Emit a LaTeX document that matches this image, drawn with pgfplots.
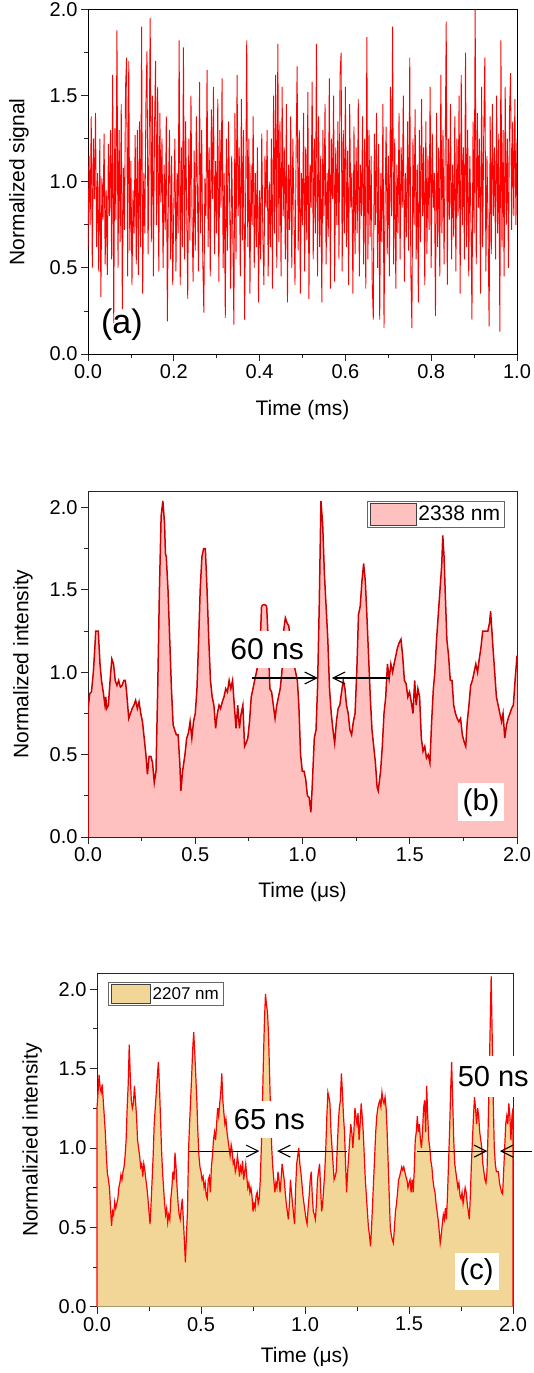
\documentclass[border=0pt]{standalone}
\usepackage{fontspec}
\setmainfont{Liberation Sans}
\usepackage{pgfplots}
\usepackage{pgfplotstable}
\pgfplotsset{compat=1.18}
\usetikzlibrary{arrows.meta}
\definecolor{lineA}{RGB}{255,0,0}
\definecolor{lineB}{RGB}{204,0,0}
\definecolor{fillB}{RGB}{255,192,192}
\definecolor{lineC}{RGB}{255,0,0}
\definecolor{fillC}{RGB}{242,214,152}

\pgfplotstableread[row sep=\\]{t v\\
0 0.60\\ 0.0025 1.15\\ 0.005 0.75\\ 0.0075 1.38\\ 0.01 0.50\\ 0.0125 1.25\\ 0.015 0.90\\ 0.0175 1.40\\ 0.02 0.62\\ 0.0225 1.05\\
0.025 0.48\\ 0.0275 1.25\\ 0.03 0.33\\ 0.0325 1.02\\ 0.035 0.78\\ 0.0375 1.28\\ 0.04 0.52\\ 0.0425 0.95\\ 0.045 0.46\\ 0.0475 1.22\\
0.05 0.80\\ 0.0525 1.30\\ 0.055 0.55\\ 0.0575 1.62\\ 0.06 0.18\\ 0.0625 1.31\\ 0.065 0.78\\ 0.0675 1.88\\ 0.07 0.50\\ 0.0725 1.30\\
0.075 0.65\\ 0.0775 1.45\\ 0.08 0.26\\ 0.0825 1.08\\ 0.085 0.72\\ 0.0875 1.55\\ 0.09 1.72\\ 0.0925 0.45\\ 0.095 1.70\\ 0.0975 0.60\\
0.1 1.12\\ 0.1025 0.40\\ 0.105 0.95\\ 0.1075 0.70\\ 0.11 1.27\\ 0.1125 0.52\\ 0.115 1.30\\ 0.1175 0.46\\ 0.12 1.35\\ 0.1225 0.62\\
0.125 1.90\\ 0.1275 0.35\\ 0.13 1.05\\ 0.1325 0.70\\ 0.135 1.45\\ 0.1375 1.76\\ 0.14 0.58\\ 0.1425 1.20\\ 0.145 1.95\\ 0.1475 0.65\\
0.15 1.50\\ 0.1525 0.45\\ 0.155 1.30\\ 0.1575 1.70\\ 0.16 0.75\\ 0.1625 1.55\\ 0.165 0.48\\ 0.1675 1.40\\ 0.17 0.88\\ 0.1725 1.25\\
0.175 0.50\\ 0.1775 1.10\\ 0.18 0.72\\ 0.1825 1.38\\ 0.185 0.19\\ 0.1875 0.95\\ 0.19 1.30\\ 0.1925 0.55\\ 0.195 1.15\\ 0.1975 0.40\\
0.2 0.85\\ 0.2025 1.25\\ 0.205 0.48\\ 0.2075 1.05\\ 0.21 0.70\\ 0.2125 1.82\\ 0.215 0.40\\ 0.2175 1.20\\ 0.22 0.62\\ 0.2225 1.78\\
0.225 0.55\\ 0.2275 1.35\\ 0.23 0.85\\ 0.2325 0.32\\ 0.235 1.25\\ 0.2375 0.66\\ 0.24 1.50\\ 0.2425 0.80\\ 0.245 0.42\\ 0.2475 1.18\\
0.25 0.60\\ 0.2525 1.38\\ 0.255 0.95\\ 0.2575 0.48\\ 0.26 1.58\\ 0.2625 0.70\\ 0.265 1.30\\ 0.2675 0.55\\ 0.27 0.24\\ 0.2725 1.02\\
0.275 0.80\\ 0.2775 1.65\\ 0.28 0.62\\ 0.2825 1.20\\ 0.285 0.45\\ 0.2875 1.42\\ 0.29 0.90\\ 0.2925 1.55\\ 0.295 0.58\\ 0.2975 1.12\\
0.3 0.70\\ 0.3025 1.48\\ 0.305 0.42\\ 0.3075 1.30\\ 0.31 0.85\\ 0.3125 1.60\\ 0.315 0.50\\ 0.3175 1.05\\ 0.32 0.21\\ 0.3225 1.25\\
0.325 0.60\\ 0.3275 1.35\\ 0.33 0.95\\ 0.3325 0.38\\ 0.335 1.15\\ 0.3375 0.72\\ 0.34 0.17\\ 0.3425 1.40\\ 0.345 0.55\\ 0.3475 1.62\\
0.35 0.80\\ 0.3525 1.20\\ 0.355 0.45\\ 0.3575 1.48\\ 0.36 0.66\\ 0.3625 1.30\\ 0.365 0.20\\ 0.3675 0.90\\ 0.37 1.82\\ 0.3725 0.62\\
0.375 1.25\\ 0.3775 0.35\\ 0.38 1.10\\ 0.3825 0.75\\ 0.385 1.38\\ 0.3875 0.50\\ 0.39 1.05\\ 0.3925 0.62\\ 0.395 1.20\\ 0.3975 0.30\\
0.4 0.95\\ 0.4025 0.55\\ 0.405 1.28\\ 0.4075 0.70\\ 0.41 0.40\\ 0.4125 1.15\\ 0.415 0.85\\ 0.4175 1.30\\ 0.42 0.45\\ 0.4225 1.00\\
0.425 0.62\\ 0.4275 1.25\\ 0.43 0.38\\ 0.4325 1.50\\ 0.435 0.70\\ 0.4375 1.62\\ 0.44 0.50\\ 0.4425 1.80\\ 0.445 0.65\\ 0.4475 1.35\\
0.45 0.45\\ 0.4525 1.55\\ 0.455 0.80\\ 0.4575 1.20\\ 0.46 0.55\\ 0.4625 1.45\\ 0.465 0.30\\ 0.4675 1.10\\ 0.47 0.72\\ 0.4725 1.38\\
0.475 0.50\\ 0.4775 1.25\\ 0.48 0.85\\ 0.4825 0.40\\ 0.485 1.15\\ 0.4875 1.67\\ 0.49 0.60\\ 0.4925 1.30\\ 0.495 0.35\\ 0.4975 1.05\\
0.5 0.75\\ 0.5025 1.40\\ 0.505 0.48\\ 0.5075 1.20\\ 0.51 0.66\\ 0.5125 1.52\\ 0.515 0.32\\ 0.5175 1.10\\ 0.52 0.85\\ 0.5225 1.58\\
0.525 0.55\\ 0.5275 1.25\\ 0.53 0.70\\ 0.5325 1.80\\ 0.535 0.45\\ 0.5375 1.38\\ 0.54 0.62\\ 0.5425 1.15\\ 0.545 0.30\\ 0.5475 1.30\\
0.55 0.80\\ 0.5525 1.45\\ 0.555 0.52\\ 0.5575 1.05\\ 0.56 0.68\\ 0.5625 1.60\\ 0.565 0.38\\ 0.5675 1.25\\ 0.57 0.90\\ 0.5725 1.50\\
0.575 0.42\\ 0.5775 1.20\\ 0.58 0.75\\ 0.5825 1.35\\ 0.585 0.55\\ 0.5875 1.62\\ 0.59 1.75\\ 0.5925 0.48\\ 0.595 1.30\\ 0.5975 0.70\\
0.6 1.55\\ 0.6025 0.62\\ 0.605 1.18\\ 0.6075 0.40\\ 0.61 1.45\\ 0.6125 0.85\\ 0.615 1.05\\ 0.6175 0.35\\ 0.62 1.32\\ 0.6225 0.58\\
0.625 1.20\\ 0.6275 0.70\\ 0.63 1.48\\ 0.6325 0.45\\ 0.635 1.10\\ 0.6375 0.80\\ 0.64 1.38\\ 0.6425 0.52\\ 0.645 1.25\\ 0.6475 0.38\\
0.65 1.84\\ 0.6525 0.55\\ 0.655 1.30\\ 0.6575 0.68\\ 0.66 1.15\\ 0.6625 0.42\\ 0.665 0.20\\ 0.6675 1.28\\ 0.67 0.75\\ 0.6725 1.40\\
0.675 0.50\\ 0.6775 1.22\\ 0.68 0.20\\ 0.6825 1.05\\ 0.685 0.65\\ 0.6875 1.45\\ 0.69 0.15\\ 0.6925 0.90\\ 0.695 1.32\\ 0.6975 0.58\\
0.7 1.15\\ 0.7025 0.45\\ 0.705 1.55\\ 0.7075 0.80\\ 0.71 1.90\\ 0.7125 0.52\\ 0.715 1.25\\ 0.7175 0.38\\ 0.72 1.10\\ 0.7225 0.70\\
0.725 1.40\\ 0.7275 0.55\\ 0.73 1.20\\ 0.7325 0.85\\ 0.735 1.50\\ 0.7375 0.42\\ 0.74 1.05\\ 0.7425 0.68\\ 0.745 1.35\\ 0.7475 0.60\\
0.75 1.72\\ 0.7525 0.48\\ 0.755 0.15\\ 0.7575 1.25\\ 0.76 0.75\\ 0.7625 1.42\\ 0.765 0.55\\ 0.7675 1.10\\ 0.77 0.30\\ 0.7725 1.30\\
0.775 0.65\\ 0.7775 1.48\\ 0.78 0.80\\ 0.7825 1.20\\ 0.785 0.40\\ 0.7875 1.35\\ 0.79 0.58\\ 0.7925 1.15\\ 0.795 0.72\\ 0.7975 1.55\\
0.8 0.50\\ 0.8025 1.28\\ 0.805 0.85\\ 0.8075 1.05\\ 0.81 0.22\\ 0.8125 1.40\\ 0.815 0.62\\ 0.8175 1.20\\ 0.82 0.45\\ 0.8225 1.62\\
0.825 0.70\\ 0.8275 1.30\\ 0.83 0.52\\ 0.8325 1.15\\ 0.835 1.93\\ 0.8375 0.40\\ 0.84 1.25\\ 0.8425 0.78\\ 0.845 1.45\\ 0.8475 0.55\\
0.85 1.10\\ 0.8525 0.68\\ 0.855 1.38\\ 0.8575 0.48\\ 0.86 1.25\\ 0.8625 0.80\\ 0.865 1.50\\ 0.8675 0.35\\ 0.87 1.62\\ 0.8725 0.75\\
0.875 1.20\\ 0.8775 0.55\\ 0.88 1.75\\ 0.8825 0.62\\ 0.885 1.30\\ 0.8875 0.45\\ 0.89 1.15\\ 0.8925 0.80\\ 0.895 0.20\\ 0.8975 1.35\\
0.9 0.70\\ 0.9025 2.00\\ 0.905 0.52\\ 0.9075 1.40\\ 0.91 0.85\\ 0.9125 1.25\\ 0.915 0.35\\ 0.9175 1.55\\ 0.92 0.62\\ 0.9225 1.30\\
0.925 1.72\\ 0.9275 0.48\\ 0.93 1.15\\ 0.9325 0.75\\ 0.935 0.16\\ 0.9375 1.38\\ 0.94 0.58\\ 0.9425 1.45\\ 0.945 0.80\\ 0.9475 1.20\\
0.95 0.55\\ 0.9525 1.50\\ 0.955 0.70\\ 0.9575 1.28\\ 0.96 0.13\\ 0.9625 1.82\\ 0.965 0.62\\ 0.9675 1.30\\ 0.97 0.45\\ 0.9725 1.55\\
0.975 0.75\\ 0.9775 1.25\\ 0.98 0.50\\ 0.9825 1.40\\ 0.985 1.63\\ 0.9875 0.72\\ 0.99 1.35\\ 0.9925 0.80\\ 0.995 1.48\\ 0.9975 0.75\\
1 1.25\\
}\dataA

\pgfplotstableread[row sep=\\]{t v\\
0 0\\ 0 0.77\\ 0.008 0.87\\ 0.016 0.88\\ 0.025 1.00\\ 0.032 1.15\\ 0.036 1.25\\ 0.048 1.25\\ 0.056 1.05\\ 0.063 0.95\\
0.071 0.88\\ 0.079 0.80\\ 0.083 0.85\\ 0.087 0.78\\ 0.095 0.80\\ 0.103 0.95\\ 0.111 1.08\\ 0.119 1.05\\ 0.127 0.95\\ 0.135 0.92\\
0.143 0.95\\ 0.151 0.91\\ 0.159 0.92\\ 0.167 0.95\\ 0.174 0.95\\ 0.18 0.88\\ 0.19 0.72\\ 0.198 0.75\\ 0.206 0.78\\ 0.214 0.80\\
0.222 0.83\\ 0.23 0.78\\ 0.238 0.82\\ 0.246 0.75\\ 0.254 0.70\\ 0.262 0.60\\ 0.27 0.50\\ 0.277 0.38\\ 0.285 0.49\\ 0.293 0.49\\
0.301 0.45\\ 0.309 0.33\\ 0.317 0.40\\ 0.325 0.90\\ 0.333 1.50\\ 0.341 1.95\\ 0.349 2.04\\ 0.357 1.90\\ 0.361 1.72\\ 0.365 1.70\\
0.373 1.50\\ 0.381 1.20\\ 0.389 0.90\\ 0.397 0.68\\ 0.404 0.65\\ 0.412 0.62\\ 0.42 0.62\\ 0.428 0.45\\ 0.433 0.28\\ 0.441 0.40\\
0.452 0.50\\ 0.46 0.60\\ 0.468 0.63\\ 0.476 0.70\\ 0.484 0.60\\ 0.492 0.70\\ 0.5 0.75\\ 0.508 0.90\\ 0.516 1.20\\ 0.523 1.50\\
0.531 1.70\\ 0.539 1.75\\ 0.547 1.75\\ 0.555 1.50\\ 0.563 1.20\\ 0.571 0.95\\ 0.579 0.85\\ 0.587 0.80\\ 0.595 0.66\\ 0.603 0.75\\
0.611 0.80\\ 0.618 0.78\\ 0.626 0.82\\ 0.634 0.85\\ 0.642 0.90\\ 0.65 0.88\\ 0.658 0.95\\ 0.666 0.90\\ 0.674 0.95\\ 0.682 0.80\\
0.69 0.66\\ 0.698 0.80\\ 0.706 0.66\\ 0.714 0.75\\ 0.722 0.80\\ 0.73 0.55\\ 0.737 0.57\\ 0.745 0.60\\ 0.753 0.70\\ 0.761 0.85\\
0.769 0.90\\ 0.777 0.95\\ 0.785 1.00\\ 0.793 1.05\\ 0.801 1.10\\ 0.809 1.40\\ 0.817 1.41\\ 0.825 1.41\\ 0.833 1.40\\ 0.84 1.20\\
0.848 0.90\\ 0.856 0.88\\ 0.864 0.80\\ 0.872 0.72\\ 0.88 0.80\\ 0.888 0.85\\ 0.896 0.90\\ 0.904 1.00\\ 0.912 1.25\\ 0.92 1.33\\
0.928 1.30\\ 0.936 1.28\\ 0.944 1.20\\ 0.952 1.10\\ 0.96 1.05\\ 0.968 1.00\\ 0.976 0.95\\ 0.983 0.80\\ 0.991 0.50\\ 0.999 0.40\\
1.007 0.40\\ 1.015 0.35\\ 1.023 0.25\\ 1.031 0.24\\ 1.039 0.15\\ 1.045 0.30\\ 1.055 0.60\\ 1.063 0.65\\ 1.07 0.90\\ 1.078 1.40\\
1.086 2.04\\ 1.094 1.90\\ 1.102 1.60\\ 1.11 1.40\\ 1.118 1.20\\ 1.126 0.90\\ 1.134 0.75\\ 1.142 0.65\\ 1.15 0.57\\ 1.158 0.70\\
1.166 0.78\\ 1.174 0.80\\ 1.182 0.88\\ 1.19 0.95\\ 1.198 0.90\\ 1.205 0.80\\ 1.213 0.75\\ 1.221 0.65\\ 1.229 0.62\\ 1.237 0.70\\
1.245 0.75\\ 1.253 1.00\\ 1.261 1.35\\ 1.269 1.40\\ 1.277 1.55\\ 1.285 1.66\\ 1.293 1.55\\ 1.30 1.35\\ 1.308 1.10\\ 1.316 0.85\\
1.324 0.65\\ 1.332 0.55\\ 1.34 0.45\\ 1.348 0.30\\ 1.353 0.28\\ 1.364 0.40\\ 1.372 0.55\\ 1.38 0.75\\ 1.388 0.85\\ 1.396 1.05\\
1.404 0.96\\ 1.412 1.05\\ 1.42 1.00\\ 1.427 1.05\\ 1.435 1.10\\ 1.443 1.15\\ 1.451 1.18\\ 1.459 1.20\\ 1.467 1.10\\ 1.475 0.95\\
1.483 0.93\\ 1.491 0.85\\ 1.499 0.88\\ 1.507 0.82\\ 1.515 0.75\\ 1.523 0.95\\ 1.53 0.80\\ 1.538 0.90\\ 1.546 0.85\\ 1.554 0.60\\
1.562 0.52\\ 1.57 0.55\\ 1.578 0.48\\ 1.586 0.50\\ 1.594 0.45\\ 1.602 0.70\\ 1.61 0.90\\ 1.617 1.00\\ 1.625 1.20\\ 1.633 1.35\\
1.641 1.50\\ 1.649 1.65\\ 1.654 1.83\\ 1.66 1.70\\ 1.665 1.50\\ 1.673 1.20\\ 1.681 1.10\\ 1.689 0.95\\ 1.697 0.95\\ 1.705 0.80\\
1.713 0.75\\ 1.721 0.72\\ 1.729 0.70\\ 1.737 0.72\\ 1.745 0.62\\ 1.753 0.58\\ 1.761 0.55\\ 1.768 0.70\\ 1.776 0.80\\ 1.784 0.92\\
1.792 0.95\\ 1.80 1.00\\ 1.808 1.05\\ 1.816 1.00\\ 1.824 1.08\\ 1.832 1.15\\ 1.84 1.25\\ 1.848 1.25\\ 1.856 1.25\\ 1.864 1.25\\
1.872 1.30\\ 1.877 1.37\\ 1.883 1.25\\ 1.888 1.15\\ 1.896 1.00\\ 1.904 0.85\\ 1.912 0.80\\ 1.92 0.75\\ 1.928 0.70\\ 1.935 0.75\\
1.943 0.60\\ 1.951 0.68\\ 1.959 0.72\\ 1.967 0.75\\ 1.975 0.78\\ 1.983 0.80\\ 1.991 0.95\\ 2.0 1.10\\
}\dataB

\pgfplotstableread[row sep=\\]{t v\\
0 0\\ 0 1.25\\ 0.005 1.35\\ 0.01 1.46\\ 0.015 1.38\\ 0.02 1.35\\ 0.025 1.40\\ 0.03 1.30\\ 0.035 1.20\\ 0.04 1.10\\ 0.045 0.95\\
0.05 0.84\\ 0.055 0.80\\ 0.06 0.75\\ 0.065 0.62\\ 0.07 0.51\\ 0.075 0.60\\ 0.08 0.58\\ 0.085 0.66\\ 0.09 0.62\\ 0.1 0.68\\
0.105 0.75\\ 0.11 0.78\\ 0.115 0.83\\ 0.12 0.80\\ 0.125 0.85\\ 0.13 0.88\\ 0.135 0.95\\ 0.14 1.05\\ 0.145 1.25\\ 0.15 1.40\\
0.155 1.65\\ 0.16 1.45\\ 0.165 1.30\\ 0.17 1.25\\ 0.175 1.28\\ 0.18 1.39\\ 0.185 1.30\\ 0.19 1.20\\ 0.195 1.05\\ 0.2 1.00\\
0.205 0.95\\ 0.21 0.88\\ 0.215 0.90\\ 0.22 0.82\\ 0.225 0.90\\ 0.23 0.86\\ 0.235 0.80\\ 0.24 0.75\\ 0.245 0.68\\ 0.25 0.60\\
0.255 0.52\\ 0.26 0.65\\ 0.265 0.80\\ 0.27 0.95\\ 0.275 1.15\\ 0.28 1.25\\ 0.285 1.35\\ 0.29 1.45\\ 0.295 1.54\\ 0.3 1.40\\
0.305 1.20\\ 0.31 1.00\\ 0.315 0.85\\ 0.32 0.75\\ 0.325 0.65\\ 0.33 0.58\\ 0.335 0.62\\ 0.34 0.53\\ 0.345 0.58\\ 0.35 0.55\\
0.355 0.68\\ 0.36 0.75\\ 0.365 0.85\\ 0.37 0.80\\ 0.375 0.97\\ 0.38 0.88\\ 0.385 0.75\\ 0.39 0.65\\ 0.395 0.58\\ 0.4 0.55\\
0.405 0.62\\ 0.41 0.68\\ 0.415 0.55\\ 0.42 0.42\\ 0.425 0.28\\ 0.43 0.45\\ 0.435 0.60\\ 0.44 0.98\\ 0.445 1.15\\ 0.45 1.30\\
0.455 1.45\\ 0.46 1.62\\ 0.465 1.73\\ 0.47 1.60\\ 0.475 1.45\\ 0.48 1.30\\ 0.485 1.10\\ 0.49 0.95\\ 0.495 0.88\\ 0.5 0.85\\
0.505 0.80\\ 0.51 0.82\\ 0.515 0.75\\ 0.52 0.78\\ 0.525 0.70\\ 0.53 0.68\\ 0.535 0.80\\ 0.54 0.82\\ 0.545 0.72\\ 0.55 0.88\\
0.555 0.95\\ 0.56 1.05\\ 0.565 1.10\\ 0.57 1.05\\ 0.575 1.15\\ 0.58 1.25\\ 0.585 1.20\\ 0.59 1.28\\ 0.595 1.35\\ 0.6 1.47\\
0.605 1.30\\ 0.61 1.22\\ 0.615 1.15\\ 0.62 1.18\\ 0.625 1.10\\ 0.63 1.05\\ 0.635 1.00\\ 0.64 0.95\\ 0.645 1.02\\ 0.65 0.98\\
0.655 0.90\\ 0.66 0.92\\ 0.665 0.85\\ 0.67 0.88\\ 0.675 0.95\\ 0.68 0.90\\ 0.685 0.82\\ 0.69 0.88\\ 0.695 0.85\\ 0.7 0.92\\
0.705 0.80\\ 0.71 0.85\\ 0.715 0.90\\ 0.72 0.82\\ 0.725 0.75\\ 0.73 0.78\\ 0.735 0.72\\ 0.74 0.75\\ 0.745 0.70\\ 0.75 0.60\\
0.755 0.65\\ 0.76 0.62\\ 0.765 0.70\\ 0.77 0.72\\ 0.775 0.65\\ 0.78 0.68\\ 0.785 0.80\\ 0.79 1.00\\ 0.795 1.25\\ 0.8 1.55\\
0.805 1.80\\ 0.81 1.97\\ 0.815 1.90\\ 0.82 1.85\\ 0.825 1.70\\ 0.83 1.45\\ 0.835 1.20\\ 0.84 1.00\\ 0.845 0.88\\ 0.85 0.80\\
0.855 0.72\\ 0.86 0.78\\ 0.865 0.75\\ 0.87 0.85\\ 0.875 0.80\\ 0.88 0.72\\ 0.885 0.80\\ 0.89 0.90\\ 0.895 0.85\\ 0.9 0.80\\
0.905 0.72\\ 0.91 0.65\\ 0.915 0.60\\ 0.92 0.55\\ 0.925 0.65\\ 0.93 0.80\\ 0.935 0.72\\ 0.94 0.65\\ 0.945 0.58\\ 0.95 0.52\\
0.955 0.75\\ 0.96 0.90\\ 0.965 0.95\\ 0.97 1.00\\ 0.975 0.90\\ 0.98 0.85\\ 0.985 0.78\\ 0.99 0.70\\ 0.995 0.65\\ 1.0 0.60\\
1.005 0.55\\ 1.01 0.52\\ 1.015 0.62\\ 1.02 0.70\\ 1.025 0.80\\ 1.03 0.85\\ 1.035 0.70\\ 1.04 0.60\\ 1.045 0.58\\ 1.05 0.55\\
1.055 0.65\\ 1.06 0.80\\ 1.065 0.85\\ 1.07 0.90\\ 1.075 0.75\\ 1.08 0.60\\ 1.085 0.65\\ 1.09 0.75\\ 1.095 0.85\\ 1.1 1.00\\
1.105 1.20\\ 1.11 1.35\\ 1.115 1.32\\ 1.12 1.28\\ 1.125 1.10\\ 1.13 1.00\\ 1.135 0.90\\ 1.14 0.80\\ 1.145 0.82\\ 1.15 0.85\\
1.155 1.00\\ 1.16 1.15\\ 1.165 1.25\\ 1.17 1.30\\ 1.175 1.47\\ 1.18 1.35\\ 1.185 1.20\\ 1.19 1.10\\ 1.195 0.90\\ 1.2 0.72\\
1.205 0.85\\ 1.21 0.95\\ 1.215 1.05\\ 1.22 1.15\\ 1.225 1.10\\ 1.23 1.00\\ 1.235 1.10\\ 1.24 1.25\\ 1.245 1.20\\ 1.25 1.15\\
1.255 1.22\\ 1.26 1.05\\ 1.265 1.15\\ 1.27 1.28\\ 1.275 1.20\\ 1.28 1.10\\ 1.285 0.95\\ 1.29 0.80\\ 1.295 0.70\\ 1.3 0.60\\
1.305 0.50\\ 1.31 0.45\\ 1.315 0.38\\ 1.32 0.50\\ 1.325 0.65\\ 1.33 0.80\\ 1.335 0.95\\ 1.34 1.10\\ 1.345 1.20\\ 1.35 1.25\\
1.355 1.28\\ 1.36 1.30\\ 1.365 1.26\\ 1.37 1.35\\ 1.375 1.30\\ 1.38 1.28\\ 1.385 1.32\\ 1.39 1.25\\ 1.395 1.10\\ 1.4 0.90\\
1.405 0.70\\ 1.41 0.50\\ 1.415 0.45\\ 1.42 0.42\\ 1.425 0.40\\ 1.43 0.50\\ 1.435 0.60\\ 1.44 0.65\\ 1.445 0.72\\ 1.45 0.80\\
1.455 0.82\\ 1.46 0.85\\ 1.465 0.88\\ 1.47 0.86\\ 1.475 0.88\\ 1.48 0.85\\ 1.485 0.82\\ 1.49 0.80\\ 1.495 0.75\\ 1.5 0.78\\
1.505 0.80\\ 1.51 0.72\\ 1.515 0.80\\ 1.52 0.72\\ 1.525 0.85\\ 1.53 1.05\\ 1.535 1.10\\ 1.54 1.20\\ 1.545 1.10\\ 1.55 1.15\\
1.555 1.05\\ 1.56 1.00\\ 1.565 1.10\\ 1.57 1.25\\ 1.575 1.30\\ 1.58 1.10\\ 1.585 1.39\\ 1.59 1.20\\ 1.595 1.05\\ 1.6 1.00\\
1.605 0.92\\ 1.61 0.88\\ 1.615 0.80\\ 1.62 0.75\\ 1.625 0.72\\ 1.63 0.65\\ 1.635 0.60\\ 1.64 0.55\\ 1.645 0.48\\ 1.65 0.40\\
1.655 0.45\\ 1.66 0.52\\ 1.665 0.58\\ 1.67 0.55\\ 1.675 0.62\\ 1.68 0.55\\ 1.685 0.70\\ 1.69 0.90\\ 1.695 1.10\\ 1.7 1.35\\
1.705 1.54\\ 1.71 1.30\\ 1.715 1.05\\ 1.72 0.90\\ 1.725 0.85\\ 1.73 0.80\\ 1.735 0.75\\ 1.74 0.78\\ 1.745 0.70\\ 1.75 0.68\\
1.755 0.72\\ 1.76 0.65\\ 1.765 0.70\\ 1.77 0.75\\ 1.775 0.72\\ 1.78 0.65\\ 1.785 0.60\\ 1.79 0.55\\ 1.795 0.70\\ 1.8 0.90\\
1.805 1.05\\ 1.81 1.20\\ 1.815 1.32\\ 1.82 1.25\\ 1.825 1.15\\ 1.83 1.25\\ 1.835 1.20\\ 1.84 1.10\\ 1.845 1.05\\ 1.85 1.00\\
1.855 0.90\\ 1.86 0.85\\ 1.865 0.80\\ 1.87 0.78\\ 1.875 0.85\\ 1.88 1.10\\ 1.885 1.40\\ 1.89 1.75\\ 1.895 2.08\\ 1.9 1.70\\
1.905 1.30\\ 1.91 1.00\\ 1.915 0.90\\ 1.92 0.85\\ 1.925 0.85\\ 1.93 0.85\\ 1.935 0.78\\ 1.94 0.75\\ 1.945 0.72\\ 1.95 0.71\\
1.955 0.85\\ 1.96 1.00\\ 1.965 1.15\\ 1.97 1.20\\ 1.975 1.15\\ 1.98 1.28\\ 1.985 1.20\\ 1.99 1.05\\ 1.995 1.20\\ 2.0 1.25\\
2.0 0\\
}\dataC

\pgfplotsset{
  panel/.style={
    scale only axis,
    axis line style={black!85, line width=0.9pt},
    tick align=outside, tick pos=left,
    major tick length=7pt, minor tick length=4pt,
    tick style={black!85, line width=0.8pt},
    minor x tick num=1, minor y tick num=1,
    /pgf/number format/assume math mode=true,
    tick label style={font=\fontsize{20}{24}\selectfont},
    xticklabel style={/pgf/number format/fixed, /pgf/number format/fixed zerofill, /pgf/number format/precision=1},
    yticklabel style={/pgf/number format/fixed, /pgf/number format/fixed zerofill, /pgf/number format/precision=1},
    label style={font=\fontsize{21}{25}\selectfont},
    xlabel style={anchor=center},
    ylabel style={anchor=center},
    ytick={0,0.5,1,1.5,2},
  },
}
\tikzset{arr/.style={-{Straight Barb[length=12pt,width=12pt]}, line width=1.1pt, black}}

\begin{document}
\begin{tikzpicture}
\useasboundingbox (0,0) rectangle (533pt,1373pt);

% ---------------- panel (a)
\begin{axis}[panel, at={(88pt,1019pt)}, anchor=south west, width=429pt, height=344.5pt,
  xmin=0, xmax=1, ymin=0, ymax=2, xtick={0,0.2,0.4,0.6,0.8,1},
  xlabel={Time (ms)}, ylabel={Normalized signal},
  xlabel style={at={(axis description cs:0.5,-0.163)}},
  ylabel style={at={(axis description cs:-0.161,0.5)}},
  axis line style={black, line width=0.9pt}]
\addplot[lineA, line width=0.9pt] table {\dataA};
\node[font=\fontsize{34}{40}\selectfont] at (axis cs:0.079,0.169) {(a)};
\end{axis}

% ---------------- panel (b)
\begin{axis}[panel, at={(88pt,536pt)}, anchor=south west, width=429pt, height=346pt,
  xmin=0, xmax=2, ymin=0, ymax=2.1, xtick={0,0.5,1,1.5,2},
  xlabel={Time (μs)}, ylabel={Normalized intensity},
  xlabel style={at={(axis description cs:0.5,-0.159)}},
  ylabel style={at={(axis description cs:-0.1515,0.5)}},
  legend style={at={(axis description cs:1,1)}, anchor=north east, xshift=-12pt, yshift=-10pt,
    draw=black!60, line width=0.8pt, font=\fontsize{21}{24}\selectfont,
    inner xsep=3pt, inner ysep=1.5pt, nodes={inner sep=1.5pt}},
  legend image code/.code={\draw[#1, draw=black!75, line width=0.8pt] (0pt,-11pt) rectangle (46pt,11pt);}]
\addplot[fill=fillB, draw=none] table {\dataB} \closedcycle;
\addlegendentry{2338 nm}
\addplot[lineB, line width=1.5pt, forget plot] table {\dataB};
\node[fill=white, inner xsep=3pt, inner ysep=8pt, font=\fontsize{30}{36}\selectfont] at (axis cs:0.835,1.14) {60 ns};
\draw[arr] (axis cs:0.765,0.965) -- (axis cs:1.072,0.965);
\draw[arr] (axis cs:1.408,0.965) -- (axis cs:1.137,0.965);
\node[fill=white, inner xsep=5pt, inner ysep=5pt, font=\fontsize{30}{36}\selectfont] at (axis cs:1.832,0.21) {(b)};
\end{axis}

% ---------------- panel (c)
\begin{axis}[panel, at={(97pt,66.3pt)}, anchor=south west, width=416pt, height=333.4pt, clip=false,
  xmin=0, xmax=2, ymin=0, ymax=2.1, xtick={0,0.5,1,1.5,2},
  xlabel={Time (μs)}, ylabel={Normalizied intensity},
  xlabel style={at={(axis description cs:0.5,-0.15)}},
  ylabel style={at={(axis description cs:-0.156,0.5)}},
  legend style={at={(axis description cs:0,1)}, anchor=north west, xshift=11pt, yshift=-9pt,
    draw=black!60, line width=0.8pt, font=\fontsize{17}{20}\selectfont,
    inner xsep=3pt, inner ysep=1.5pt, nodes={inner sep=1.5pt}},
  legend image code/.code={\draw[#1, draw=black!75, line width=0.8pt] (0pt,-9.5pt) rectangle (39pt,9.5pt);}]
\addplot[fill=fillC, draw=none] table {\dataC} \closedcycle;
\addlegendentry{2207 nm}
\addplot[lineC, line width=1.2pt, forget plot] table {\dataC};
\node[fill=white, inner xsep=3pt, inner ysep=8pt, font=\fontsize{29}{35}\selectfont] at (axis cs:0.829,1.18) {65 ns};
\node[fill=white, inner xsep=3pt, inner ysep=10pt, font=\fontsize{29}{35}\selectfont] at (axis cs:1.905,1.45) {50 ns};
\draw[arr] (axis cs:0.441,0.98) -- (axis cs:0.781,0.98);
\draw[arr] (axis cs:1.203,0.98) -- (axis cs:0.866,0.98);
\draw[arr] (axis cs:1.54,0.98) -- (axis cs:1.877,0.98);
\draw[arr] (axis cs:2.093,0.98) -- (axis cs:1.937,0.98);
\node[fill=white, inner xsep=5pt, inner ysep=5pt, font=\fontsize{29}{35}\selectfont] at (axis cs:1.825,0.22) {(c)};
\end{axis}
\end{tikzpicture}
\end{document}
